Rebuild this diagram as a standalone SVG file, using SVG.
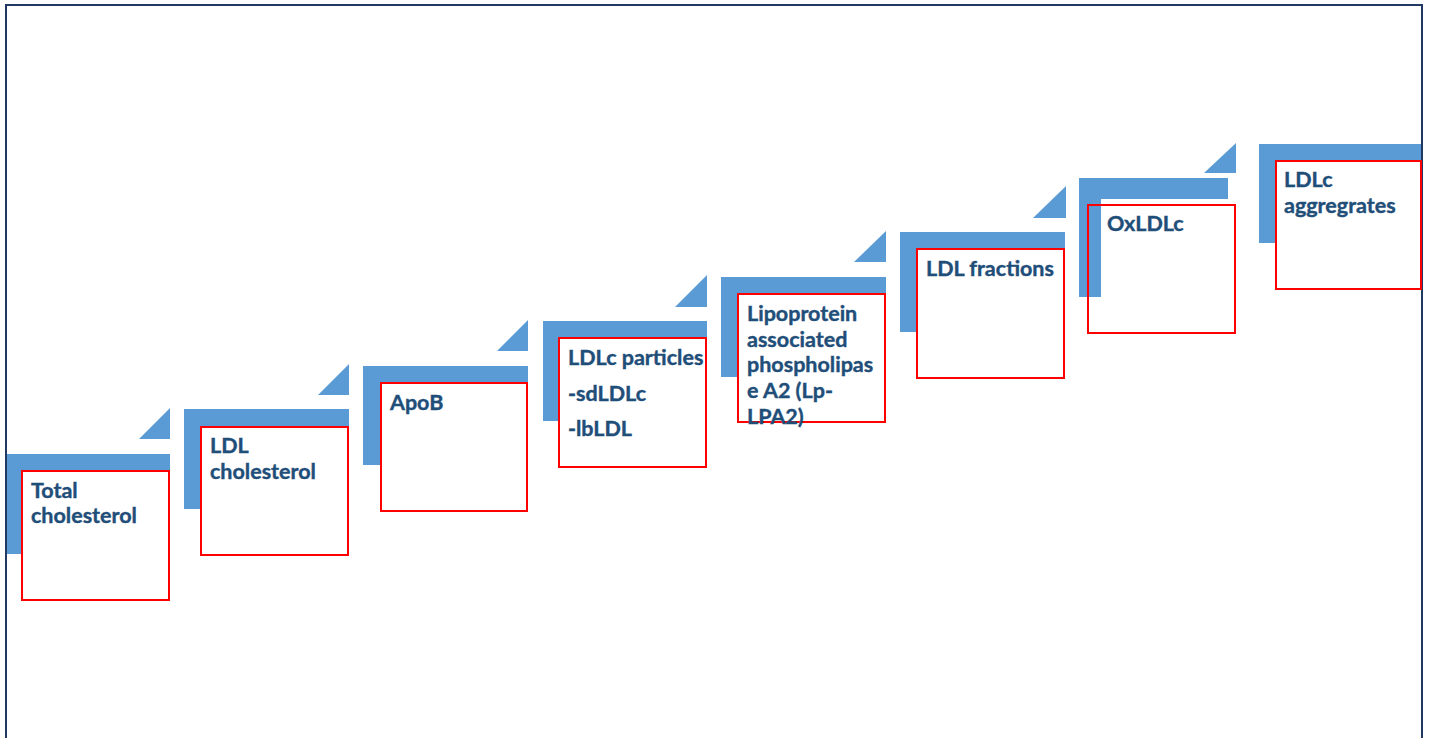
<svg xmlns="http://www.w3.org/2000/svg" width="1429" height="738" viewBox="0 0 1429 738">
<style>
.step{fill:#5B9BD5}
.box{fill:none;stroke:#FF0000;stroke-width:2}
.lbl{font-family:Lato,"Liberation Sans",sans-serif;font-weight:bold;font-size:21.5px;fill:#1F4E79;stroke:#1F4E79;stroke-width:0.4}
.frame{fill:none;stroke:#1F3864;stroke-width:2}
</style>
<rect x="0" y="0" width="1429" height="738" fill="#FFFFFF"/>
<path class="frame" d="M6,740 V5 H1422 V740"/>
<g id="connectors">
<polygon class="step" points="170,408 170,439 139,439"/>
<polygon class="step" points="349,364 349,395 318,395"/>
<polygon class="step" points="528,320 528,351 497,351"/>
<polygon class="step" points="707,275 707,307 675,307"/>
<polygon class="step" points="886,231 886,262 854,262"/>
<polygon class="step" points="1066,186 1066,218 1033,218"/>
<polygon class="step" points="1236,143 1236,173 1204,173"/>
</g>
<g id="node1">
<polygon class="step" points="7,454 170,454 170,471 22,471 22,554 7,554"/>
<rect class="box" x="22" y="471" width="147" height="129"/>
<text class="lbl" x="31" y="498">Total<tspan x="31" y="523">cholesterol</tspan></text>
</g>
<g id="node2">
<polygon class="step" points="184,409 349,409 349,427 201,427 201,509 184,509"/>
<rect class="box" x="201" y="427" width="147" height="128"/>
<text class="lbl" x="210" y="453">LDL<tspan x="210" y="479">cholesterol</tspan></text>
</g>
<g id="node3">
<polygon class="step" points="363,366 528,366 528,383 381,383 381,465 363,465"/>
<rect class="box" x="381" y="383" width="146" height="128"/>
<text class="lbl" x="390" y="410">ApoB</text>
</g>
<g id="node4">
<polygon class="step" points="543,321 707,321 707,338 559,338 559,421 543,421"/>
<rect class="box" x="559" y="338" width="147" height="129"/>
<text class="lbl" x="568" y="365">LDLc particles<tspan x="568" y="401">-sdLDLc</tspan><tspan x="568" y="436">-lbLDL</tspan></text>
</g>
<g id="node5">
<polygon class="step" points="721,277 886,277 886,294 738,294 738,377 721,377"/>
<rect class="box" x="738" y="294" width="147" height="128"/>
<text class="lbl" x="747" y="321">Lipoprotein<tspan x="747" y="347">associated</tspan><tspan x="747" y="372">phospholipas</tspan><tspan x="747" y="398">e A2 (Lp-</tspan><tspan x="747" y="424">LPA2)</tspan></text>
</g>
<g id="node6">
<polygon class="step" points="900,232 1065,232 1065,249 917,249 917,332 900,332"/>
<rect class="box" x="917" y="249" width="147" height="129"/>
<text class="lbl" x="926" y="276">LDL fractions</text>
</g>
<g id="node7">
<polygon class="step" points="1079,178 1228,178 1228,199 1101,199 1101,297 1079,297"/>
<rect class="box" x="1088" y="205" width="147" height="128"/>
<text class="lbl" x="1107" y="231">OxLDLc</text>
</g>
<g id="node8">
<polygon class="step" points="1259,144 1421,144 1421,161 1276,161 1276,243 1259,243"/>
<rect class="box" x="1276" y="161" width="145" height="128"/>
<text class="lbl" x="1284" y="187">LDLc<tspan x="1284" y="213">aggregrates</tspan></text>
</g>
</svg>
